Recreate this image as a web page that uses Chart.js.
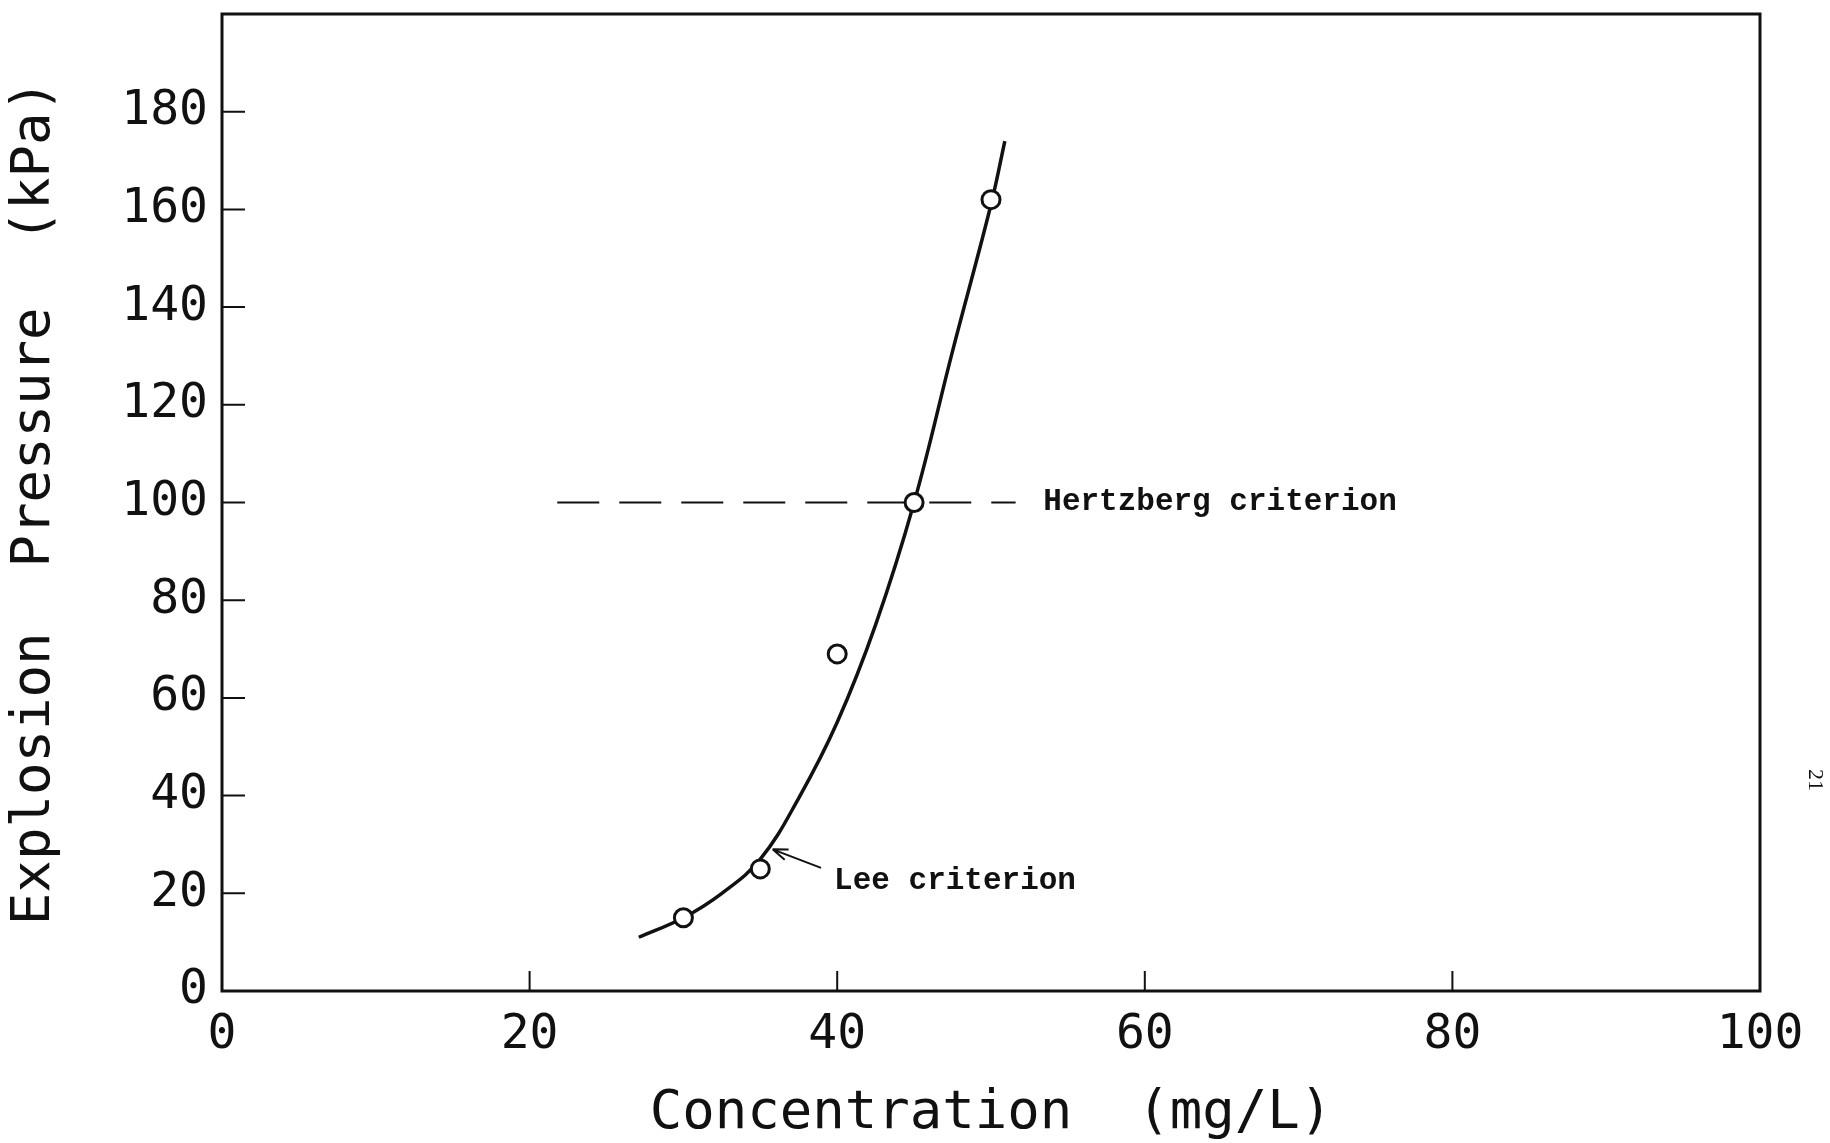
<!DOCTYPE html>
<html>
<head>
<meta charset="utf-8">
<script src="https://cdn.jsdelivr.net/npm/chart.js@4/dist/chart.umd.min.js"></script>
<style>
  html, body { margin: 0; padding: 0; background: #fff; }
  #wrap { width: 1830px; height: 1143px; }
</style>
</head>
<body>
<div id="wrap"><canvas id="pressureChart" width="1830" height="1143"></canvas></div>
<script>
// measured points
var concData = [30, 35, 40, 45, 50];
var pressData = [15, 25, 69, 100, 162];

// fitted curve
var curveConc = [27.1, 30, 32.5, 35, 37.5, 40, 42.5, 45, 47.5, 50, 50.9];
var curvePress = [11, 15, 20, 27, 39.5, 55, 75, 100, 131, 161, 174];

// Hertzberg criterion (dashed line)
var hertzConc = [21.8, 51.6];
var hertzPress = [100, 100];

var xTicks = [0, 20, 40, 60, 80, 100];
var yTicks = [0, 20, 40, 60, 80, 100, 120, 140, 160, 180];

var plotFont = "'DejaVu Sans Mono', monospace";
var noteFont = "'Liberation Mono', 'Courier New', monospace";
var ink = '#111';

function toXY(xs, ys) {
    return xs.map(function (x, i) { return {x: x, y: ys[i]}; });
}

// frame, inner tick marks and the text notes
var decorations = {
    id: 'decorations',
    afterDraw: function (chart) {
        var ctx = chart.ctx;
        var a = chart.chartArea;
        var xs = chart.scales.x, ys = chart.scales.y;
        ctx.save();
        ctx.strokeStyle = ink;
        ctx.lineWidth = 3;
        ctx.strokeRect(a.left, a.top, a.right - a.left, a.bottom - a.top);

        ctx.lineWidth = 2;
        ctx.beginPath();
        yTicks.forEach(function (v) {
            if (v <= 0) return;
            var py = ys.getPixelForValue(v);
            ctx.moveTo(a.left, py);
            ctx.lineTo(a.left + 23, py);
        });
        xTicks.forEach(function (v) {
            if (v <= 0 || v >= 100) return;
            var px = xs.getPixelForValue(v);
            ctx.moveTo(px, a.bottom);
            ctx.lineTo(px, a.bottom - 20);
        });
        ctx.stroke();

        // labels
        ctx.fillStyle = ink;
        ctx.font = 'bold 31px ' + noteFont;
        ctx.textBaseline = 'middle';
        ctx.textAlign = 'left';
        ctx.fillText('Hertzberg criterion', xs.getPixelForValue(53.4), ys.getPixelForValue(100));
        ctx.fillText('Lee criterion', xs.getPixelForValue(39.8), ys.getPixelForValue(22.5));

        // arrow for Lee criterion
        var x1 = xs.getPixelForValue(38.95), y1 = ys.getPixelForValue(25.2);
        var x2 = xs.getPixelForValue(35.8), y2 = ys.getPixelForValue(29.0);
        var ang = Math.atan2(y2 - y1, x2 - x1);
        ctx.lineWidth = 2;
        ctx.beginPath();
        ctx.moveTo(x1, y1);
        ctx.lineTo(x2, y2);
        ctx.moveTo(x2, y2);
        ctx.lineTo(x2 - 16 * Math.cos(ang - 0.35), y2 - 16 * Math.sin(ang - 0.35));
        ctx.moveTo(x2, y2);
        ctx.lineTo(x2 - 16 * Math.cos(ang + 0.35), y2 - 16 * Math.sin(ang + 0.35));
        ctx.stroke();

        // page number
        ctx.translate(1815, 780);
        ctx.rotate(Math.PI / 2);
        ctx.font = "22px 'Liberation Serif', serif";
        ctx.textAlign = 'center';
        ctx.fillText('21', 0, 0);
        ctx.restore();
    }
};

var ctx = document.getElementById('pressureChart').getContext('2d');
new Chart(ctx, {
    type: 'scatter',
    data: {
        datasets: [
            {
                label: 'Measured',
                data: toXY(concData, pressData),
                showLine: false,
                pointRadius: 9,
                pointBorderWidth: 3,
                pointBorderColor: ink,
                pointBackgroundColor: '#fff'
            }, {
                label: 'Lee criterion',
                data: toXY(curveConc, curvePress),
                showLine: true,
                tension: 0.4,
                borderColor: ink,
                borderWidth: 3.5,
                pointRadius: 0
            }, {
                label: 'Hertzberg criterion',
                data: toXY(hertzConc, hertzPress),
                showLine: true,
                borderColor: ink,
                borderWidth: 2,
                borderDash: [42, 20],
                pointRadius: 0
            }
        ]
    },
    options: {
        responsive: false,
        animation: false,
        layout: { padding: { top: 14, right: 70, left: 0, bottom: 0 } },
        plugins: { legend: { display: false }, tooltip: { enabled: false } },
        scales: {
            x: {
                type: 'linear',
                min: 0, max: 100,
                grid: { display: false, drawTicks: false },
                border: { display: false },
                afterBuildTicks: function (s) { s.ticks = xTicks.map(function (v) { return {value: v}; }); },
                afterFit: function (s) { s.height = 152; s.paddingLeft = 0; s.paddingRight = 0; },
                ticks: { color: ink, padding: 16, maxRotation: 0, font: { family: plotFont, size: 48 } },
                title: {
                    display: true, text: 'Concentration  (mg/L)', color: ink,
                    padding: { top: 0, bottom: 2 },
                    font: { family: plotFont, size: 54, lineHeight: 1 }
                }
            },
            y: {
                type: 'linear',
                min: 0, max: 200,
                grid: { display: false, drawTicks: false },
                border: { display: false },
                afterBuildTicks: function (s) { s.ticks = yTicks.map(function (v) { return {value: v}; }); },
                afterFit: function (s) { s.width = 222; s.paddingTop = 0; s.paddingBottom = 0; },
                ticks: { color: ink, padding: 14, font: { family: plotFont, size: 48 } },
                title: {
                    display: true, text: 'Explosion  Pressure  (kPa)', color: ink,
                    padding: { top: 8, bottom: 0 },
                    font: { family: plotFont, size: 54, lineHeight: 1 }
                }
            }
        }
    },
    plugins: [decorations]
});
</script>
</body>
</html>
